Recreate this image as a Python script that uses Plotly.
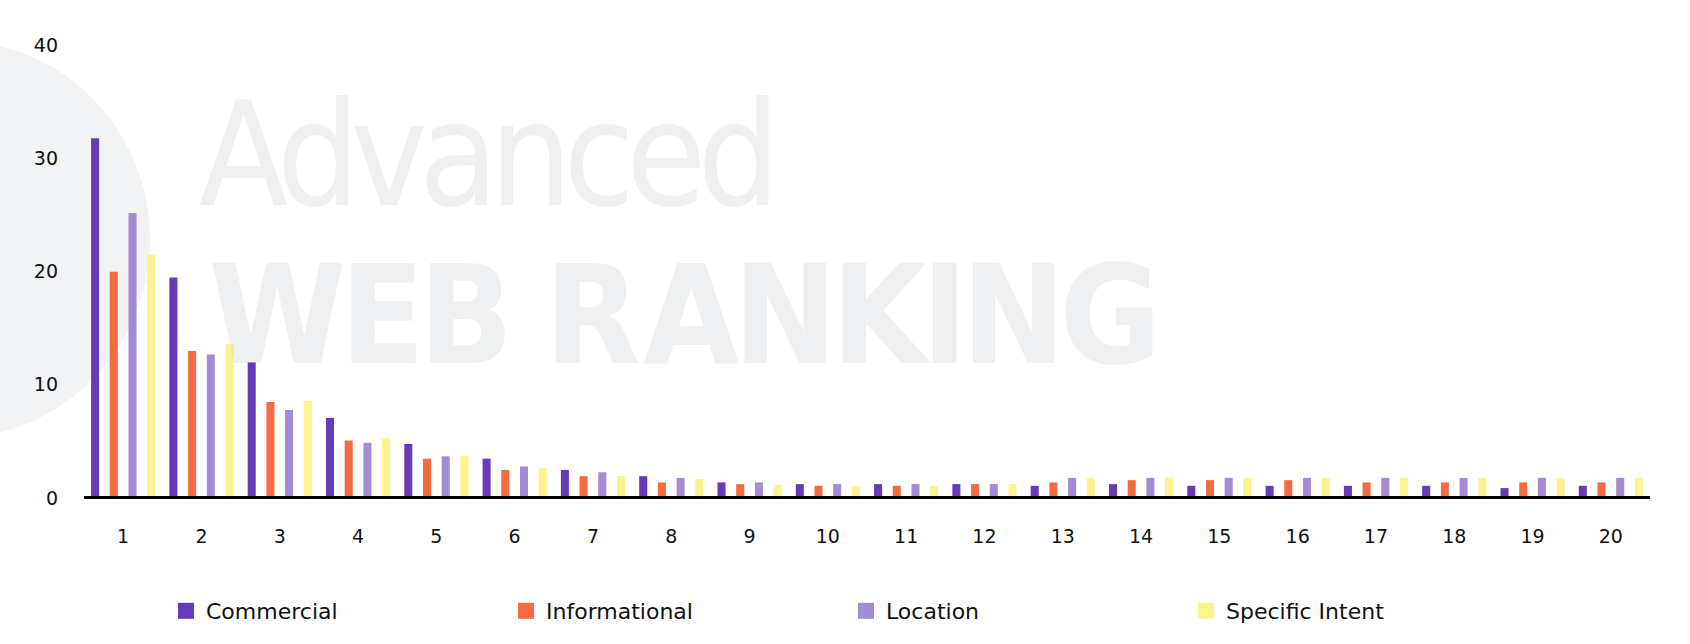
import plotly.graph_objects as go

positions = [str(i) for i in range(1, 21)]
series_names = ["Commercial", "Informational", "Location", "Specific Intent"]
commercial = [31.6, 19.3, 11.8, 6.9, 4.6, 3.3, 2.3, 1.75, 1.2, 1.05, 1.05, 1.05, 0.9, 1.05, 0.9, 0.9, 0.9, 0.9, 0.7, 0.9]
informational = [19.8, 12.8, 8.3, 4.9, 3.3, 2.3, 1.75, 1.2, 1.05, 0.9, 0.9, 1.05, 1.2, 1.4, 1.4, 1.4, 1.2, 1.2, 1.2, 1.2]
location = [25.0, 12.5, 7.6, 4.7, 3.5, 2.6, 2.1, 1.6, 1.2, 1.05, 1.05, 1.05, 1.6, 1.6, 1.6, 1.6, 1.6, 1.6, 1.6, 1.6]
specific_intent = [21.3, 13.4, 8.4, 5.1, 3.5, 2.5, 1.75, 1.5, 1.0, 0.9, 0.9, 1.05, 1.6, 1.6, 1.6, 1.6, 1.6, 1.6, 1.6, 1.6]
colors = ["#673ab7", "#f26b41", "#a48bd4", "#fbf38d"]

W, H = 1690, 644
L, R, T, B = 84, 40, 43, 148
pw, ph = W - L - R, H - T - B

def px(x):
    return (x - L) / pw

def py(y):
    return (H - B - y) / ph

fig = go.Figure()
for name, vals, col in zip(series_names, [commercial, informational, location, specific_intent], colors):
    fig.add_trace(go.Bar(x=positions, y=vals, name=name, showlegend=False,
                         marker=dict(color=col, line=dict(width=0))))
# legend entries with larger square swatches
for name, col in zip(series_names, colors):
    fig.add_trace(go.Scatter(x=[None], y=[None], mode="markers", name=name, showlegend=True,
                             marker=dict(symbol="square", size=17, color=col, line=dict(width=0))))

wm_font = "DejaVu Sans Condensed, Liberation Sans Narrow, Roboto, sans-serif"
# globe watermark
fig.add_shape(type="circle", xref="paper", yref="paper",
              x0=px(-243), x1=px(150), y0=py(438), y1=py(40),
              fillcolor="rgba(225,228,232,0.45)", line=dict(width=0), layer="below")
fig.add_annotation(text='<span style="letter-spacing:-9px">Advanced</span>', xref="paper", yref="paper",
                   x=px(197), y=py(154), xanchor="left", yanchor="middle", showarrow=False, opacity=0.28,
                   font=dict(family=wm_font, size=145, color="#c4cad0", weight=300))
fig.add_annotation(text=('<span style="letter-spacing:-6px"><b>WEB </b></span>'
                         '<span style="letter-spacing:3px"><b>R</b></span>'
                         '<span style="letter-spacing:-6px"><b>ANKING</b></span>'),
                   xref="paper", yref="paper",
                   x=px(207), y=py(315), xanchor="left", yanchor="middle", showarrow=False, opacity=0.28,
                   font=dict(family=wm_font, size=138, color="#c4cad0"))

fig.update_layout(
    width=W, height=H,
    margin=dict(l=L, r=R, t=T, b=B, pad=0, autoexpand=False),
    paper_bgcolor="white", plot_bgcolor="white",
    barmode="group", bargap=0.045, bargroupgap=0.57,
    font=dict(family="DejaVu Sans", size=19, color="#111"),
    showlegend=True,
    legend=dict(orientation="h", x=px(166), y=py(611), xanchor="left", yanchor="middle",
                entrywidth=295, entrywidthmode="pixels", font=dict(size=22),
                itemsizing="trace", traceorder="normal", bgcolor="rgba(0,0,0,0)"),
    xaxis=dict(showgrid=False, zeroline=False, showline=True, linecolor="black", linewidth=3,
               ticks="", ticklabelstandoff=21, tickfont=dict(size=19)),
    yaxis=dict(range=[0, 40], tickvals=[0, 10, 20, 30, 40], showgrid=False, zeroline=False,
               showline=False, ticks="", ticklabelstandoff=25, ticklabelshift=2,
               tickfont=dict(size=19)),
)

fig.write_html("out.html")
